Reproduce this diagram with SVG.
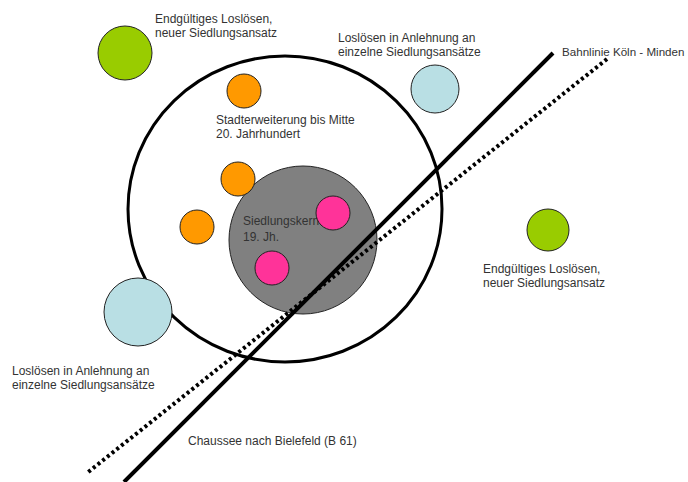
<svg xmlns="http://www.w3.org/2000/svg" width="688" height="482" viewBox="0 0 688 482">
<style>
text{font-family:"Liberation Sans",Arial,sans-serif;font-size:12px;fill:#333}
.c{stroke:#222;stroke-width:1}
.green{fill:#99cc00}
.orange{fill:#ff9900}
.blue{fill:#b9dfe4}
.pink{fill:#ff3399}
</style>
<rect width="688" height="482" fill="#fff"/>
<g id="ring"><ellipse cx="285" cy="209" rx="157" ry="153" fill="none" stroke="#000" stroke-width="3"/></g>
<g id="kern">
<circle class="c" cx="303" cy="240" r="74" fill="#808080"/>
<text x="243" y="225">Siedlungskern</text>
<text x="243" y="241">19. Jh.</text>
</g>
<g id="pink1"><circle class="c pink" cx="333" cy="213" r="17"/></g>
<g id="pink2"><circle class="c pink" cx="272" cy="268" r="17"/></g>
<g id="stadt">
<circle class="c orange" cx="244" cy="91" r="17"/>
<circle class="c orange" cx="238" cy="179" r="17"/>
<circle class="c orange" cx="197" cy="227" r="17"/>
<text x="216" y="124">Stadterweiterung bis Mitte</text>
<text x="216" y="138">20. Jahrhundert</text>
</g>
<g id="green1">
<circle class="c green" cx="125" cy="53" r="27"/>
<text x="155" y="23">Endgültiges Loslösen,</text>
<text x="155" y="37">neuer Siedlungsansatz</text>
</g>
<g id="green2">
<circle class="c green" cx="548" cy="230" r="21"/>
<text x="483" y="273">Endgültiges Loslösen,</text>
<text x="483" y="287">neuer Siedlungsansatz</text>
</g>
<g id="blue1">
<circle class="c blue" cx="435" cy="89" r="24"/>
<text x="338" y="42">Loslösen in Anlehnung an</text>
<text x="338" y="56">einzelne Siedlungsansätze</text>
</g>
<g id="blue2">
<circle class="c blue" cx="138" cy="312" r="34"/>
<text x="12" y="375">Loslösen in Anlehnung an</text>
<text x="12" y="389">einzelne Siedlungsansätze</text>
</g>
<g id="connectors">
<line x1="553" y1="53" x2="124" y2="482" stroke="#000" stroke-width="4"/>
<line x1="607" y1="59" x2="87" y2="473" stroke="#000" stroke-width="4" stroke-dasharray="3 3"/>
</g>
<g id="labels">
<text x="562" y="56" style="font-size:11.6px">Bahnlinie Köln - Minden</text>
<text x="188" y="445">Chaussee nach Bielefeld (B 61)</text>
</g>
</svg>
